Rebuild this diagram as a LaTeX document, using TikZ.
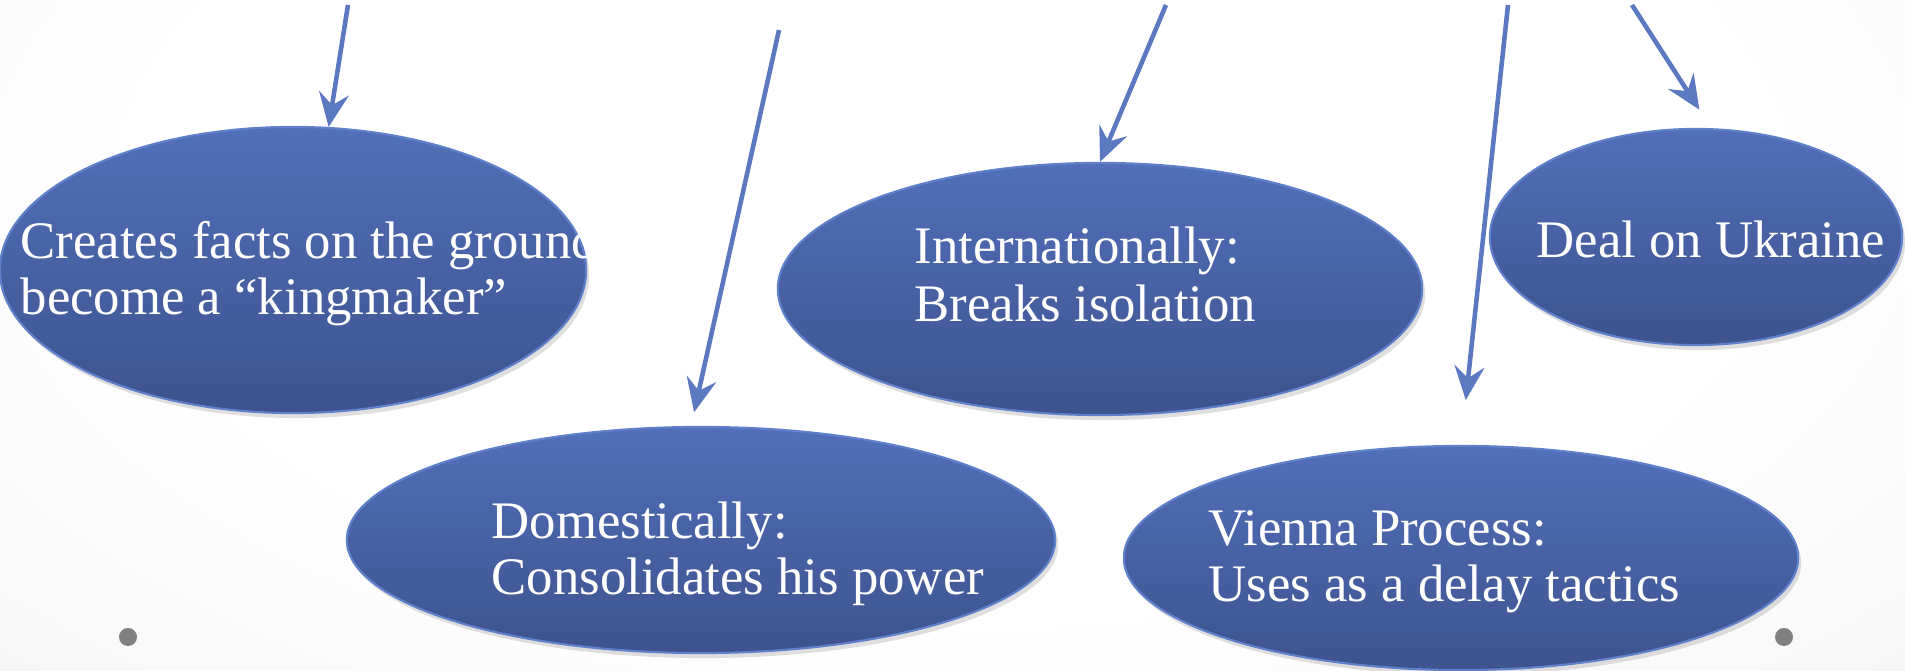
\documentclass[tikz,border=0pt]{standalone}
\usepackage{fontspec}
\setmainfont{Liberation Serif}
\usetikzlibrary{arrows.meta,shapes.geometric,shadows}
\definecolor{blobtop}{RGB}{82,111,186}
\definecolor{blobbottom}{RGB}{61,83,142}
\definecolor{blobline}{RGB}{96,128,204}
\definecolor{arrowblue}{RGB}{91,121,192}
\definecolor{dotgray}{RGB}{128,128,128}
\pgfdeclareradialshading{slide}{\pgfpoint{0bp}{0bp}}{color(0bp)=(white); color(20bp)=(white); color(32bp)=(gray!6); color(50bp)=(gray!26); color(71bp)=(gray!38)}
\tikzset{
    blob/.style = {
        ellipse,
        draw = blobline,
        line width = 0.6pt,
        top color = blobtop,
        bottom color = blobbottom,
        inner sep = 0pt,
        drop shadow = {opacity=0.25, shadow xshift=0.03cm, shadow yshift=-0.05cm},
        },
    blob text/.style = {
        text = white,
        align = left,
        anchor = base west,
        inner sep = 0pt,
        font = \fontsize{15pt}{16.2pt}\selectfont,
        },
    link/.style = {
        draw = arrowblue,
        line width = 1.3pt,
        -{Stealth[length=0.34cm, width=0.3cm, inset=0.12cm]},
        },
    bullet/.style = {
        circle,
        fill = dotgray,
        minimum size = 0.18cm,
        inner sep = 0pt,
        },
}
\begin{document}
\begin{tikzpicture}[x=0.01cm, y=-0.01cm]
            \useasboundingbox (0,0) rectangle (1905,671);
            \shade[shading=slide] (-60,-330) rectangle (1965,720);

            % bubbles
            \node[blob, minimum width=5.86cm, minimum height=2.86cm] (facts) at (293,270) {};
            \node[blob, minimum width=6.44cm, minimum height=2.52cm] (intl) at (1100,289) {};
            \node[blob, minimum width=7.08cm, minimum height=2.26cm] (dom) at (701,540) {};
            \node[blob, minimum width=6.74cm, minimum height=2.24cm] (vienna) at (1461,558) {};
            \node[blob, minimum width=4.12cm, minimum height=2.16cm] (ukraine) at (1696,237) {};

            % text sits on the baseline of its last line
            \node[blob text] (facts text) at (20,315) {Creates facts on the ground\\become a \textquotedblleft kingmaker\textquotedblright};
            \node[blob text, font=\fontsize{15pt}{16.7pt}\selectfont] (intl text) at (914,322) {Internationally:\\Breaks isolation};
            \node[blob text] (dom text) at (491,595) {Domestically:\\Consolidates his power};
            \node[blob text] (vienna text) at (1208,602) {Vienna Process:\\Uses as a delay tactics};
            \node[blob text] (ukraine text) at (1536,258) {Deal on Ukraine};

            % loose ends of the arrows
            \coordinate (s1) at (348,5);
            \coordinate (s2) at (779,30);
            \coordinate (s3) at (1166,5);
            \coordinate (s4) at (1508,5);
            \coordinate (s5) at (1632,5);

            \path (s1) edge[link] (facts.76);
            \path (s2) edge[link, shorten >=0.14cm] (dom.95);
            \path (s3) edge[link] (intl.north);
            \path (s4) edge[link, shorten >=0.45cm] (vienna.north);
            \path (s5) edge[link, shorten >=0.22cm] (ukraine.82);

            \node[bullet] (dot left) at (128,637) {};
            \node[bullet] (dot right) at (1784,637) {};
        \end{tikzpicture}
\end{document}
